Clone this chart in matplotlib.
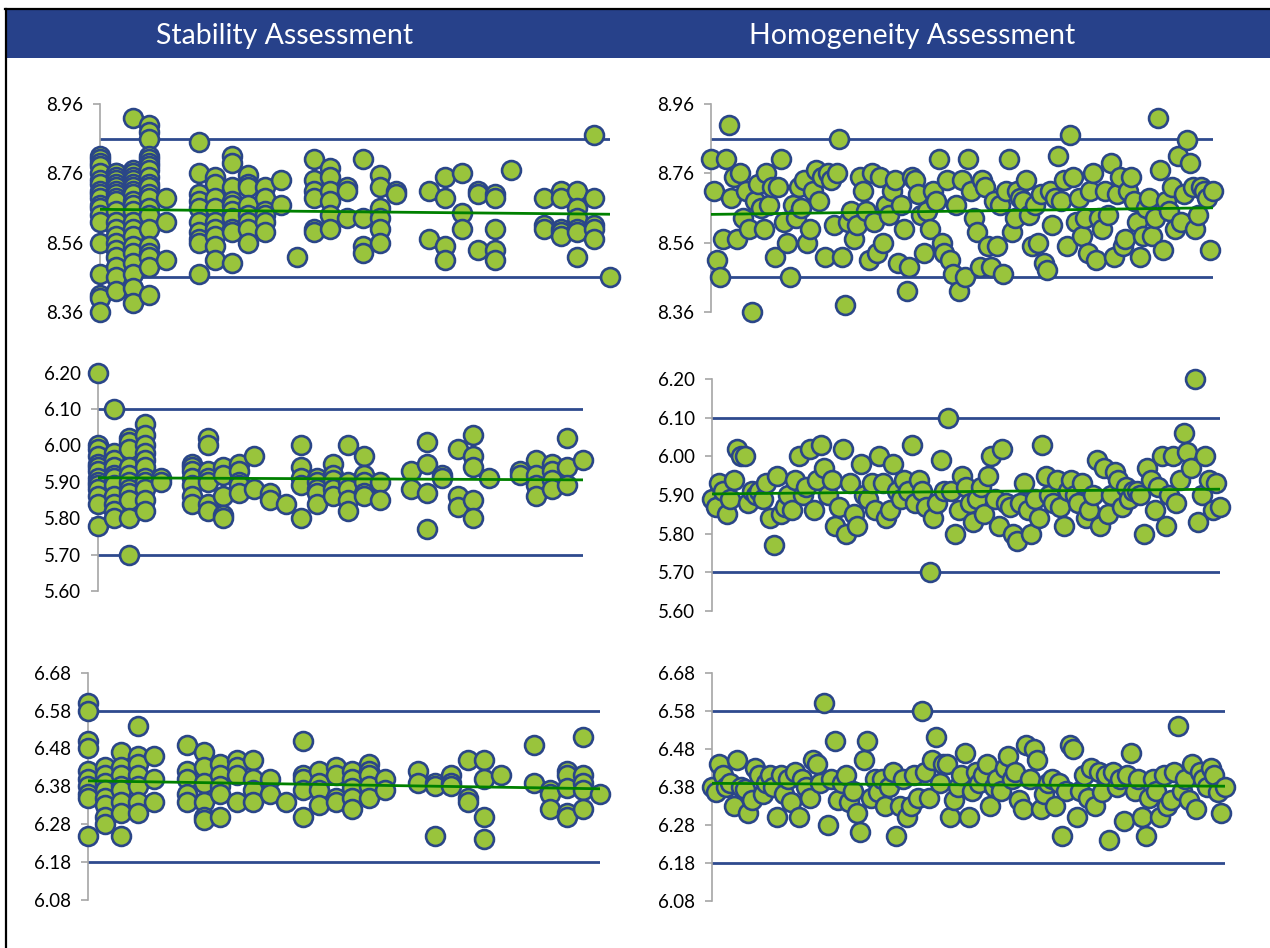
import numpy as np
import matplotlib
matplotlib.use("Agg")
import matplotlib.pyplot as plt
from matplotlib.patches import Rectangle
from matplotlib.lines import Line2D

plt.rcParams['font.family'] = ['Lato', 'DejaVu Sans']

# ---------------- DATA ----------------
titles = ["Stability Assessment", "Homogeneity Assessment"]

# Stability: day index -> measured values
stab1_days = [0, 1, 2, 3, 4, 6, 7, 8, 9, 10, 11, 12, 13, 14, 15, 16, 17, 18, 20, 21, 22, 23, 24, 25, 27, 28, 29, 30, 31]
stab1_vals = [
    [8.81, 8.80, 8.79, 8.78, 8.76, 8.74, 8.73, 8.71, 8.70, 8.69, 8.67, 8.66, 8.64, 8.62, 8.56, 8.47, 8.41, 8.40, 8.36],
    [8.76, 8.76, 8.75, 8.74, 8.73, 8.72, 8.71, 8.70, 8.69, 8.68, 8.65, 8.62, 8.60, 8.58, 8.56, 8.54, 8.52, 8.49, 8.46, 8.42],
    [8.92, 8.77, 8.76, 8.75, 8.74, 8.73, 8.72, 8.71, 8.70, 8.68, 8.67, 8.65, 8.62, 8.60, 8.58, 8.55, 8.53, 8.50, 8.47, 8.43, 8.385],
    [8.90, 8.88, 8.86, 8.81, 8.80, 8.79, 8.78, 8.77, 8.75, 8.73, 8.72, 8.70, 8.69, 8.66, 8.64, 8.60, 8.55, 8.53, 8.52, 8.49, 8.41],
    [8.69, 8.62, 8.51],
    [8.85, 8.76, 8.70, 8.68, 8.66, 8.62, 8.59, 8.57, 8.56, 8.47],
    [8.75, 8.73, 8.69, 8.66, 8.62, 8.60, 8.58, 8.55, 8.51],
    [8.81, 8.79, 8.72, 8.68, 8.67, 8.65, 8.63, 8.60, 8.59, 8.50],
    [8.755, 8.73, 8.72, 8.67, 8.64, 8.62, 8.60, 8.56],
    [8.72, 8.69, 8.65, 8.64, 8.62, 8.59],
    [8.74, 8.67],
    [8.52],
    [8.80, 8.74, 8.71, 8.69, 8.60, 8.59],
    [8.775, 8.75, 8.71, 8.68, 8.64, 8.60],
    [8.72, 8.71, 8.63],
    [8.80, 8.63, 8.55, 8.53],
    [8.755, 8.72, 8.66, 8.63, 8.60, 8.56],
    [8.71, 8.70],
    [8.71, 8.57],
    [8.75, 8.69, 8.55, 8.51],
    [8.76, 8.645, 8.60],
    [8.71, 8.70, 8.54],
    [8.70, 8.69, 8.60, 8.54, 8.51],
    [8.77],
    [8.69, 8.61, 8.60],
    [8.71, 8.69, 8.60, 8.59, 8.58],
    [8.71, 8.66, 8.63, 8.60, 8.59, 8.52],
    [8.87, 8.69, 8.61, 8.60, 8.57],
    [8.46],
]

stab2_days = [0, 1, 2, 3, 4, 6, 7, 8, 9, 10, 11, 12, 13, 14, 15, 16, 17, 18, 20, 21, 22, 23, 24, 25, 27, 28, 29, 30, 31]
stab2_vals = [
    [6.20, 6.00, 5.99, 5.97, 5.95, 5.94, 5.93, 5.91, 5.90, 5.89, 5.88, 5.86, 5.84, 5.78],
    [6.10, 5.98, 5.96, 5.94, 5.92, 5.91, 5.89, 5.86, 5.84, 5.82, 5.80],
    [6.02, 6.01, 5.99, 5.94, 5.92, 5.90, 5.88, 5.87, 5.85, 5.80, 5.70],
    [6.06, 6.03, 6.00, 5.98, 5.96, 5.94, 5.91, 5.90, 5.88, 5.85, 5.82],
    [5.91, 5.90],
    [5.95, 5.94, 5.93, 5.91, 5.89, 5.86, 5.84],
    [6.02, 6.00, 5.93, 5.91, 5.90, 5.84, 5.82],
    [5.94, 5.92, 5.86, 5.81, 5.80],
    [5.95, 5.93, 5.90, 5.89, 5.87],
    [5.97, 5.88],
    [5.87, 5.85],
    [5.84],
    [6.00, 5.94, 5.91, 5.89, 5.80],
    [5.91, 5.90, 5.88, 5.87, 5.84],
    [5.95, 5.92, 5.905, 5.88, 5.86],
    [6.00, 5.90, 5.88, 5.85, 5.82],
    [5.97, 5.92, 5.90, 5.87, 5.86],
    [5.90, 5.85],
    [5.93, 5.88],
    [6.01, 5.95, 5.87, 5.77],
    [5.92, 5.91],
    [5.99, 5.86, 5.83],
    [6.03, 5.97, 5.94, 5.85, 5.80],
    [5.91],
    [5.93, 5.92],
    [5.96, 5.92, 5.89, 5.86],
    [5.95, 5.93, 5.905, 5.88],
    [6.02, 5.94, 5.89],
    [5.96],
]

stab3_days = [0, 1, 2, 3, 4, 6, 7, 8, 9, 10, 11, 12, 13, 14, 15, 16, 17, 18, 20, 21, 22, 23, 24, 25, 27, 28, 29, 30, 31]
stab3_vals = [
    [6.60, 6.58, 6.50, 6.48, 6.42, 6.40, 6.38, 6.36, 6.35, 6.25],
    [6.43, 6.41, 6.39, 6.37, 6.35, 6.33, 6.30, 6.28],
    [6.47, 6.43, 6.41, 6.38, 6.37, 6.34, 6.31, 6.25],
    [6.54, 6.46, 6.44, 6.41, 6.38, 6.34, 6.31],
    [6.46, 6.40, 6.34],
    [6.49, 6.42, 6.40, 6.36, 6.34],
    [6.47, 6.43, 6.39, 6.34, 6.30, 6.29],
    [6.44, 6.41, 6.38, 6.36, 6.30],
    [6.45, 6.43, 6.41, 6.34],
    [6.45, 6.40, 6.37, 6.34],
    [6.40, 6.36],
    [6.34],
    [6.50, 6.41, 6.40, 6.37, 6.30],
    [6.42, 6.39, 6.37, 6.33],
    [6.43, 6.41, 6.35, 6.34],
    [6.42, 6.40, 6.375, 6.35, 6.32],
    [6.44, 6.42, 6.41, 6.38, 6.35],
    [6.40, 6.37],
    [6.42, 6.39],
    [6.39, 6.38, 6.25],
    [6.41, 6.39, 6.38],
    [6.45, 6.35, 6.34],
    [6.45, 6.40, 6.30, 6.24],
    [6.41],
    [6.49, 6.39],
    [6.37, 6.36, 6.32],
    [6.42, 6.41, 6.375, 6.31, 6.30],
    [6.51, 6.41, 6.39, 6.37, 6.32],
    [6.36],
]

# Homogeneity: values in sample order
homog1_vals = [
    8.80, 8.71, 8.51, 8.46, 8.57, 8.80, 8.90, 8.69, 8.75, 8.57, 8.76, 8.63, 8.71, 8.60, 8.36, 8.68,
    8.73, 8.66, 8.60, 8.76, 8.67, 8.72, 8.52, 8.72, 8.80, 8.62, 8.56, 8.46, 8.67, 8.63, 8.72, 8.66,
    8.74, 8.56, 8.60, 8.71, 8.77, 8.68, 8.75, 8.52, 8.76, 8.74, 8.61, 8.76, 8.86, 8.52, 8.38, 8.62,
    8.65, 8.57, 8.61, 8.75, 8.71, 8.65, 8.51, 8.76, 8.62, 8.53, 8.75, 8.56, 8.67, 8.64, 8.71, 8.74,
    8.50, 8.67, 8.60, 8.42, 8.49, 8.75, 8.74, 8.70, 8.64, 8.53, 8.65, 8.60, 8.71, 8.68, 8.80, 8.56,
    8.53, 8.74, 8.51, 8.47, 8.67, 8.42, 8.74, 8.46, 8.80, 8.71, 8.63, 8.59, 8.49,
    8.74, 8.72, 8.55, 8.49, 8.68, 8.55, 8.67, 8.47, 8.71, 8.80, 8.59, 8.63, 8.71, 8.69, 8.68, 8.74,
    8.64, 8.55, 8.67, 8.56, 8.70, 8.50, 8.48, 8.71, 8.61, 8.69, 8.81, 8.68, 8.74, 8.55, 8.87, 8.75,
    8.62, 8.69, 8.58, 8.63, 8.53, 8.71, 8.76, 8.51, 8.63, 8.60, 8.71, 8.64, 8.79, 8.52, 8.70, 8.75,
    8.55, 8.57, 8.71, 8.75, 8.68, 8.62, 8.52, 8.58, 8.66, 8.69, 8.58, 8.63, 8.92, 8.77, 8.54, 8.68,
    8.65, 8.72, 8.60, 8.81, 8.62, 8.70, 8.855, 8.79, 8.72, 8.60, 8.64, 8.72, 8.71, 8.69, 8.54, 8.71,
]

homog2_vals = [
    5.89, 5.87, 5.93, 5.91, 5.85, 5.89, 5.94, 6.02, 6.00, 6.00, 5.88, 5.91, 5.90, 5.91, 5.89, 5.93,
    5.84, 5.77, 5.95, 5.85, 5.87, 5.90, 5.86, 5.94, 6.00, 5.90, 5.92, 6.02, 5.86, 5.94, 6.03, 5.97,
    5.90, 5.94, 5.82, 5.87, 6.02, 5.80, 5.93, 5.85, 5.82, 5.98, 5.90, 5.89, 5.93, 5.86, 6.00, 5.93,
    5.84, 5.86, 5.98, 5.91, 5.89, 5.94, 5.91, 6.03, 5.88, 5.94, 5.91, 5.87, 5.70, 5.84, 5.88, 5.99,
    5.91, 6.10, 5.91, 5.80, 5.86, 5.95, 5.92, 5.88, 5.83, 5.89, 5.92, 5.85, 5.95, 6.00, 5.89, 5.82,
    6.02, 5.88, 5.87, 5.80, 5.78, 5.88, 5.93, 5.86, 5.80, 5.89, 5.84, 6.03, 5.95, 5.90, 5.88, 5.94,
    5.87, 5.82, 5.91, 5.94, 5.90, 5.88, 5.93, 5.84, 5.86, 5.90, 5.99, 5.82, 5.97, 5.85, 5.90, 5.96,
    5.94, 5.87, 5.92, 5.89, 5.91, 5.91, 5.90, 5.80, 5.97, 5.94, 5.86, 5.92, 6.00, 5.82, 5.90, 6.00,
    5.88, 5.94, 6.06, 6.01, 5.97, 6.20, 5.83, 5.90, 6.00, 5.94, 5.86, 5.93, 5.87,
]

homog3_vals = [
    6.38, 6.365, 6.44, 6.41, 6.38, 6.39, 6.33, 6.45, 6.38, 6.375, 6.31, 6.345, 6.43, 6.41, 6.36, 6.39,
    6.41, 6.38, 6.30, 6.41, 6.36, 6.40, 6.34, 6.42, 6.30, 6.40, 6.38, 6.35, 6.45, 6.44, 6.39, 6.60,
    6.28, 6.40, 6.50, 6.345, 6.39, 6.41, 6.34, 6.37, 6.31, 6.26, 6.45, 6.50, 6.35, 6.40, 6.365, 6.40,
    6.33, 6.38, 6.42, 6.25, 6.33, 6.40, 6.30, 6.33, 6.41, 6.35, 6.58, 6.42, 6.35, 6.45, 6.51, 6.39,
    6.44, 6.44, 6.30, 6.345, 6.38, 6.41, 6.47, 6.30, 6.37, 6.42, 6.39, 6.41, 6.44, 6.33, 6.38, 6.40,
    6.37, 6.43, 6.46, 6.40, 6.42, 6.345, 6.32, 6.49, 6.40, 6.48, 6.45, 6.32, 6.36, 6.39, 6.40, 6.33,
    6.39, 6.25, 6.37, 6.49, 6.48, 6.30, 6.37, 6.41, 6.35, 6.43, 6.33, 6.42, 6.365, 6.41, 6.24, 6.42,
    6.38, 6.40, 6.29, 6.41, 6.47, 6.37, 6.40, 6.30, 6.25, 6.35, 6.40, 6.37, 6.30, 6.41, 6.33, 6.345,
    6.42, 6.54, 6.37, 6.40, 6.345, 6.44, 6.32, 6.42, 6.40, 6.38, 6.43, 6.41, 6.365, 6.31, 6.38,
]

# control limits and axis ranges
limits_1 = (8.46, 8.86)
limits_2 = (5.70, 6.10)
limits_3 = (6.18, 6.58)
yticks_1 = [8.36, 8.56, 8.76, 8.96]
yticks_2 = [5.60, 5.70, 5.80, 5.90, 6.00, 6.10, 6.20]
yticks_3 = [6.08, 6.18, 6.28, 6.38, 6.48, 6.58, 6.68]

# ---------------- STYLE ----------------
W, H = 1270, 948
HEADER = '#27418A'
FILL = '#99C43C'
EDGE = '#2A4688'
LIMIT = '#2E4A8E'
TREND = '#008000'
SPINE = '#A6A6A6'

fig = plt.figure(figsize=(W / 100, H / 100), dpi=100)


def rect(x0, x1, ytop, ybot):
    return [x0 / W, 1 - ybot / H, (x1 - x0) / W, (ybot - ytop) / H]


def flatten(days, vals):
    xs, ys = [], []
    for d, v in zip(days, vals):
        xs.extend([d] * len(v))
        ys.extend(v)
    return np.array(xs, float), np.array(ys, float)


def panel(r, x, y, yticks, limits, xlim):
    ax = fig.add_axes(r)
    ax.set_xlim(*xlim)
    ax.set_ylim(yticks[0], yticks[-1])
    for s in ['top', 'right', 'bottom']:
        ax.spines[s].set_visible(False)
    ax.spines['left'].set_color(SPINE)
    ax.spines['left'].set_linewidth(1.2)
    ax.set_xticks([])
    ax.set_yticks(yticks)
    ax.set_yticklabels([f"{t:.2f}" for t in yticks])
    ax.tick_params(axis='y', length=5, width=1.2, color=SPINE, labelsize=13.5, pad=7)
    for lim in limits:
        ax.axhline(lim, color=LIMIT, lw=2.0, zorder=1)
    ax.scatter(x, y, s=185, c=FILL, edgecolors=EDGE, linewidths=1.9, zorder=3, clip_on=False)
    coef = np.polyfit(x, y, 1)
    xs = np.array([x.min(), x.max()])
    ax.plot(xs, np.polyval(coef, xs), color=TREND, lw=2.0, zorder=4)
    ax.patch.set_alpha(0)
    return ax


x1, y1 = flatten(stab1_days, stab1_vals)
x2, y2 = flatten(stab2_days, stab2_vals)
x3, y3 = flatten(stab3_days, stab3_vals)
panel(rect(100, 610, 104, 312), x1, y1, yticks_1, limits_1, (0, 31))
panel(rect(98, 583, 372.7, 591), x2, y2, yticks_2, limits_2, (0, 31))
panel(rect(88, 600, 672.7, 900), x3, y3, yticks_3, limits_3, (0, 31))

h1 = np.array(homog1_vals)
h2 = np.array(homog2_vals)
h3 = np.array(homog3_vals)
hx1 = np.arange(len(h1), dtype=float)
hx2 = np.arange(len(h2), dtype=float)
hx3 = np.arange(len(h3), dtype=float)
panel(rect(711, 1213, 104, 312), hx1, h1, yticks_1, limits_1, (0, len(h1) - 1))
panel(rect(712, 1220, 379, 611), hx2, h2, yticks_2, limits_2, (0, len(h2) - 1))
panel(rect(712, 1225, 672.7, 900.7), hx3, h3, yticks_3, limits_3, (0, len(h3) - 1))

# header bar and frame
fig.patches.append(Rectangle((7 / W, 1 - 58 / H), 1 - 7 / W, 48 / H, transform=fig.transFigure,
                             facecolor=HEADER, edgecolor='none', zorder=0))
fig.lines.append(Line2D([5 / W, 1], [1 - 9 / H, 1 - 9 / H], transform=fig.transFigure, color='black', lw=1.6))
fig.lines.append(Line2D([6 / W, 6 / W], [0, 1 - 9 / H], transform=fig.transFigure, color='black', lw=1.6))
fig.text(285 / W, 1 - 36 / H, titles[0], color='white', fontsize=20.5, ha='center', va='center')
fig.text(912 / W, 1 - 36 / H, titles[1], color='white', fontsize=20.5, ha='center', va='center')

fig.savefig('out.png', dpi=100)
